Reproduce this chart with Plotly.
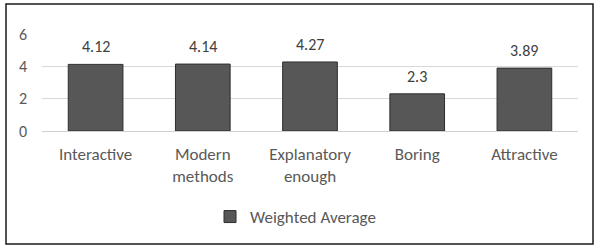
import plotly.graph_objects as go

categories = ["Interactive", "Modern<br>methods", "Explanatory<br>enough", "Boring", "Attractive"]
values = [4.12, 4.14, 4.27, 2.3, 3.89]
value_labels = ["4.12", "4.14", "4.27", "2.3", "3.89"]
series_name = "Weighted Average"
y_ticks = [0, 2, 4, 6]

W, H = 605, 250
L, R, T, B = 42, 27, 34, 119
pw, ph = W - L - R, H - T - B

def px_x(p):
    return (p - L) / pw

def px_y(p):
    return (H - B - p) / ph

font = dict(family="Carlito, 'Liberation Sans Narrow', Lato, sans-serif", size=17, color="#595959")

fig = go.Figure()
fig.add_trace(go.Bar(
    x=categories, y=values, name=series_name,
    marker=dict(color="#575757", line=dict(color="#2e2e2e", width=1)),
    showlegend=True,
))

annotations = [
    dict(x=c, y=v, text=t, xref="x", yref="y", showarrow=False,
         yanchor="bottom", yshift=6, font=dict(size=16, color="#404040"))
    for c, v, t in zip(categories, values, value_labels)
]

fig.update_layout(
    width=W, height=H,
    margin=dict(l=L, r=R, t=T, b=B, pad=0, autoexpand=False),
    paper_bgcolor="white", plot_bgcolor="white",
    font=font,
    bargap=0.49,
    showlegend=True,
    legend=dict(orientation="h", x=px_x(210), xanchor="left", y=px_y(217), yanchor="middle",
                font=dict(size=17, color="#595959"), itemwidth=30,
                bgcolor="rgba(0,0,0,0)"),
    xaxis=dict(showgrid=False, showline=False, ticks="", tickfont=dict(size=17, color="#595959"),
               ticklabelstandoff=11, automargin=False),
    yaxis=dict(range=[0, 6], tickvals=y_ticks, showgrid=True, gridcolor="#d9d9d9", gridwidth=1,
               zeroline=True, zerolinecolor="#d0d0d0", zerolinewidth=1,
               showline=False, ticks="", tickfont=dict(size=16, color="#595959"),
               ticklabelstandoff=14, automargin=False),
    annotations=annotations,
    shapes=[dict(type="rect", xref="paper", yref="paper",
                 x0=px_x(6), x1=px_x(593), y0=px_y(244), y1=px_y(4),
                 line=dict(color="#1a1a1a", width=1.5), fillcolor="rgba(0,0,0,0)", layer="above")],
)

fig.write_html("out.html", config={"displayModeBar": False},
               post_script="document.body.style.margin='0';")
